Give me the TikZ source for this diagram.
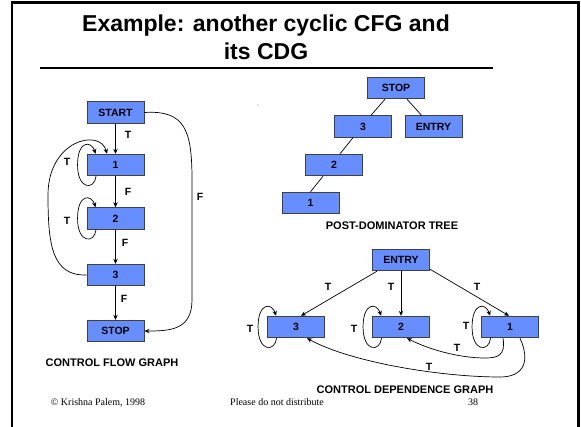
\documentclass[tikz,border=0pt]{standalone}
\usepackage{fontspec}
\setmainfont{Liberation Sans}
\newfontfamily\footfont{Liberation Serif}
\usetikzlibrary{arrows.meta}
\definecolor{boxblue}{RGB}{102,142,255}
\tikzset{
  blk/.style={draw=black!75, line width=0.9pt, fill=boxblue, minimum width=57pt,
    minimum height=21.5pt, inner sep=0pt, font=\bfseries\fontsize{10.5}{12}\selectfont},
  lbl/.style={font=\bfseries\fontsize{10.5}{12}\selectfont},
  captxt/.style={font=\bfseries\fontsize{11}{13}\selectfont},
  arr/.style={-{Stealth[length=5pt,width=4.5pt]}, line width=0.7pt},
  treeline/.style={line width=0.7pt}
}
\begin{document}
\begin{tikzpicture}[x=1pt,y=-1pt]
\useasboundingbox (0,0) rectangle (581,427);
\draw[line width=2.5pt] (12,427) -- (12,2.5) -- (578.5,2.5) -- (578.5,427);
\node[anchor=base, font=\bfseries\fontsize{23}{28}\selectfont] (title1) at (266,32) {Example: another cyclic CFG and};
\node[anchor=base, font=\bfseries\fontsize{23}{28}\selectfont] (title2) at (266,60) {its CDG};
\draw[line width=1.5pt] (40,68) -- (493,68);

% control flow graph
\node[blk] (start) at (115.5,112.5) {START};
\node[blk] (c1) at (115.5,165) {1};
\node[blk] (c2) at (115.5,218.5) {2};
\node[blk] (c3) at (115.5,275) {3};
\node[blk] (cstop) at (115.5,331) {STOP};
\draw[arr] (start) -- (c1);
\draw[arr] (c1) -- (c2);
\draw[arr] (c2) -- (c3);
\draw[arr] (c3) -- (cstop);
\draw[arr] (c3.west) .. controls (52,276) and (48,245) .. (48,195)
  .. controls (48,140) and (100,128) .. ([xshift=-8.5pt]c1.north);
\draw[arr] (start.east) .. controls (185,110) and (192,130) .. (192,180) -- (192,300)
  .. controls (192,330) and (170,331) .. (cstop.east);
\node[lbl] (t1) at (128,135) {T};
\node[lbl] (f1) at (128,192) {F};
\node[lbl] (f2) at (125,243) {F};
\node[lbl] (f3) at (124,299) {F};
\node[lbl] (t2) at (67,162) {T};
\node[lbl] (t3) at (67,221) {T};
\node[lbl] (f4) at (200,197) {F};
\node[captxt] (cfg) at (112,363) {CONTROL FLOW GRAPH};

% post-dominator tree
\fill[black!55] (258,105) circle (0.6pt);
\node[blk] (pstop) at (396,88) {STOP};
\node[blk] (p3) at (363,126.5) {3};
\node[blk] (pentry) at (433.5,126.5) {ENTRY};
\node[blk] (p2) at (334,165) {2};
\node[blk] (p1) at (310.5,203) {1};
\draw[treeline] ([xshift=-11pt]pstop.south) -- ([xshift=8pt]p3.north);
\draw[treeline] ([xshift=11pt]pstop.south) -- ([xshift=-12pt]pentry.north);
\draw[treeline] ([xshift=-10pt]p3.south) -- ([xshift=6pt]p2.north);
\draw[treeline] ([xshift=-11pt]p2.south) -- (p1.north);
\node[captxt] (pdt) at (392,226) {POST-DOMINATOR TREE};

% control dependence graph
\node[blk] (entry) at (401,260) {ENTRY};
\node[blk] (d3) at (296,327) {3};
\node[blk] (d2) at (401,327) {2};
\node[blk] (d1) at (510,327) {1};
\draw[arr] ([xshift=-24pt]entry.south) -- ([xshift=5pt]d3.north);
\draw[arr] (entry.south) -- (d2.north);
\draw[arr] ([yshift=2pt]entry.south east) -- ([xshift=-1pt]d1.north);
\draw[arr] ([xshift=-7pt]d1.south) .. controls (506,356) and (497,358) .. (485,358)
  .. controls (460,358) and (430,350) .. ([xshift=6pt]d2.south);
\draw[arr] ([xshift=10pt]d1.south) .. controls (530,360) and (525,377) .. (500,377)
  .. controls (440,377) and (350,362) .. ([xshift=11pt]d3.south);
\node[lbl] (e1) at (328,287) {T};
\node[lbl] (e2) at (391,287) {T};
\node[lbl] (e3) at (477,287) {T};
\node[lbl] (e4) at (250,329) {T};
\node[lbl] (e5) at (354,329) {T};
\node[lbl] (e6) at (466,326) {T};
\node[lbl] (e7) at (457,348) {T};
\node[lbl] (e8) at (429,367) {T};
\node[captxt] (cdg) at (405,389.5) {CONTROL DEPENDENCE GRAPH};

% self loops
\foreach \n in {c1,c2,d3,d2,d1}
  \draw[arr] ([xshift=9.5pt]\n.south west) .. controls ([xshift=8pt,yshift=-14pt]\n.south west)
    and ([xshift=-9pt,yshift=-14pt]\n.south west) .. ([xshift=-9pt]\n.west)
    .. controls ([xshift=-9pt,yshift=14pt]\n.north west) and ([xshift=5pt,yshift=13pt]\n.north west)
    .. ([xshift=9pt]\n.north west);

\node[font=\footfont\fontsize{10}{12}\selectfont] (copy) at (98,402.5) {\textcopyright{} Krishna Palem, 1998};
\node[font=\footfont\fontsize{10}{12}\selectfont] (dist) at (277,402.5) {Please do not distribute};
\node[font=\footfont\fontsize{10}{12}\selectfont] (page) at (473,402.5) {38};
\end{tikzpicture}
\end{document}
